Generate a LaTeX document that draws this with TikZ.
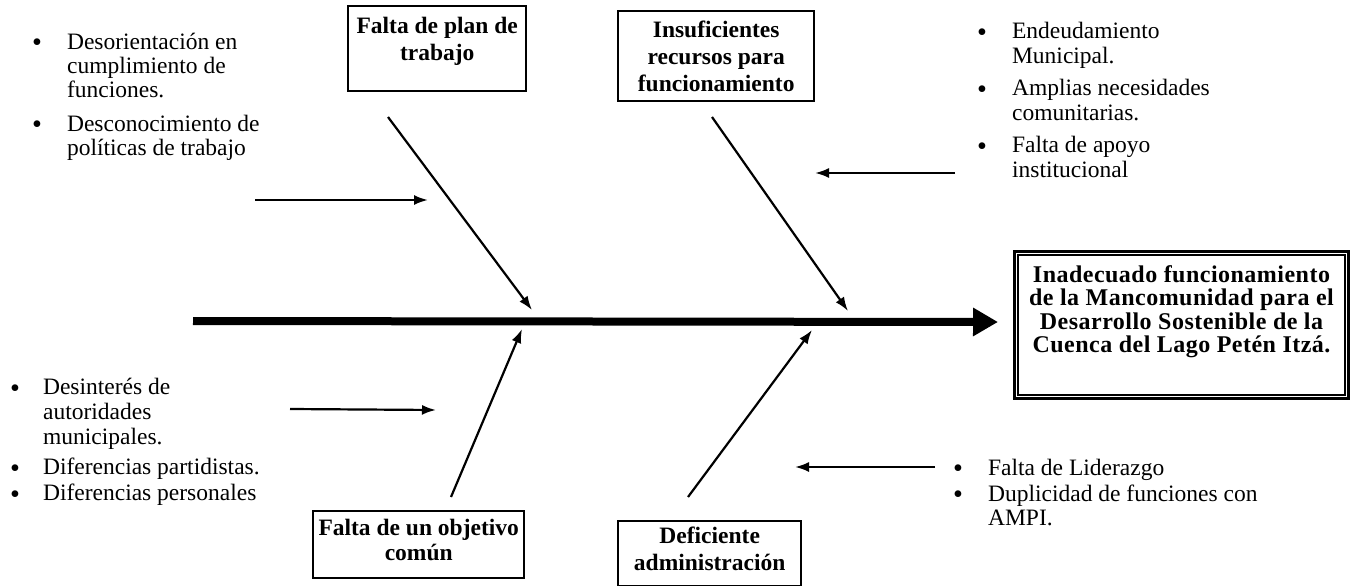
\documentclass[tikz,border=0pt]{standalone}
\usepackage{fontspec}
\setmainfont{Liberation Serif}
\newfontfamily\mbfont[LetterSpace=2]{Liberation Serif}
\usetikzlibrary{arrows.meta}
\newcommand{\bul}{\smash{\raisebox{-0.1em}{\scalebox{1.2}{\textbullet}}}}
\begin{document}
\begin{tikzpicture}[x=1pt,y=-1pt,
  boxn/.style={draw, line width=2.4pt, inner sep=0pt, anchor=north west},
  boxtext/.style={font=\bfseries\fontsize{23.5}{27}\selectfont, align=center, inner sep=0pt, anchor=north},
  maintext/.style={font=\mbfont\bfseries\fontsize{24}{23.5}\selectfont, align=center, inner sep=0pt, anchor=north},
  listn/.style={inner sep=0pt, anchor=north west},
  bone/.style={line width=2.2pt, -{Latex[length=14pt,width=10pt]}},
  feed/.style={line width=2.2pt, -{Latex[length=14pt,width=10pt]}},
  spine/.style={line width=8pt, -{Triangle[length=25pt,width=27pt]}}
]
\useasboundingbox (0,0) rectangle (1354,586);

% cause boxes
\node[boxn, minimum width=178pt, minimum height=85pt] (b1) at (347,5) {};
\node[boxtext] (b1t) at ([yshift=-12pt]b1.north) {Falta de plan de\\trabajo};

\node[boxn, minimum width=196pt, minimum height=90pt] (b2) at (617,10) {};
\node[boxtext] (b2t) at ([yshift=-11pt]b2.north) {Insuficientes\\recursos para\\funcionamiento};

\node[boxn, minimum width=211pt, minimum height=67pt] (b3) at (312,510) {};
\node[boxtext, font=\bfseries\fontsize{23.5}{25}\selectfont] (b3t) at ([yshift=-9pt]b3.north) {Falta de un objetivo\\común};

\node[boxn, minimum width=183pt, minimum height=65pt] (b4) at (617,520) {};
\node[boxtext] (b4t) at ([yshift=-7pt]b4.north) {Deficiente\\administración};

% effect box
\node[boxn, line width=3pt, minimum width=334pt, minimum height=147pt] (m) at (1013,250) {};
\draw[line width=1.3pt] ([shift={(5pt,-5pt)}]m.north west) rectangle ([shift={(-5pt,5pt)}]m.south east);
\node[maintext] (mt) at ([yshift=-15pt]m.north) {Inadecuado funcionamiento\\de la Mancomunidad para el\\Desarrollo Sostenible de la\\Cuenca del Lago Petén Itzá.};

% spine
\coordinate (sL) at (193,321);
\coordinate (sR) at (998,322);
\draw[spine] (sL) -- (sR);

% bones
\coordinate (u1s) at (388,117); \coordinate (u1e) at (532,310);
\coordinate (u2s) at (712,117); \coordinate (u2e) at (848,311);
\coordinate (l1s) at (451,497); \coordinate (l1e) at (522,329);
\coordinate (l2s) at (688,497); \coordinate (l2e) at (812,330);
\draw[bone] (u1s) -- (u1e);
\draw[bone] (u2s) -- (u2e);
\draw[bone] (l1s) -- (l1e);
\draw[bone] (l2s) -- (l2e);

% feeder arrows
\coordinate (f1s) at (255,200); \coordinate (f1e) at (428,200);
\coordinate (f2s) at (955,173); \coordinate (f2e) at (815,173);
\coordinate (f3s) at (290,409); \coordinate (f3e) at (436,410);
\coordinate (f4s) at (935,467); \coordinate (f4e) at (795,467);
\draw[feed] (f1s) -- (f1e);
\draw[feed] (f2s) -- (f2e);
\draw[feed] (f3s) -- (f3e);
\draw[feed] (f4s) -- (f4e);

% lists
\node[listn] (tl) at (32,32) {\fontsize{23.5}{24}\selectfont
\begin{tabular}{@{}l@{\hspace{25pt}}l@{}}
\bul & Desorientación en\\
 & cumplimiento de\\
 & funciones.\\[10pt]
\bul & Desconocimiento de\\
 & políticas de trabajo
\end{tabular}};

\node[listn] (tr) at (977,21) {\fontsize{23.5}{25}\selectfont
\begin{tabular}{@{}l@{\hspace{25pt}}l@{}}
\bul & Endeudamiento\\
 & Municipal.\\[7pt]
\bul & Amplias necesidades\\
 & comunitarias.\\[7pt]
\bul & Falta de apoyo\\
 & institucional
\end{tabular}};

\node[listn] (ll) at (10,377) {\fontsize{23.5}{25}\selectfont
\begin{tabular}{@{}l@{\hspace{23pt}}l@{}}
\bul & Desinterés de\\
 & autoridades\\
 & municipales.\\[5pt]
\bul & Diferencias partidistas.\\[1pt]
\bul & Diferencias personales
\end{tabular}};

\node[listn] (lr) at (953,458) {\fontsize{23.5}{24}\selectfont
\begin{tabular}{@{}l@{\hspace{25pt}}l@{}}
\bul & Falta de Liderazgo\\[2pt]
\bul & Duplicidad de funciones con\\
 & AMPI.
\end{tabular}};
\end{tikzpicture}
\end{document}
